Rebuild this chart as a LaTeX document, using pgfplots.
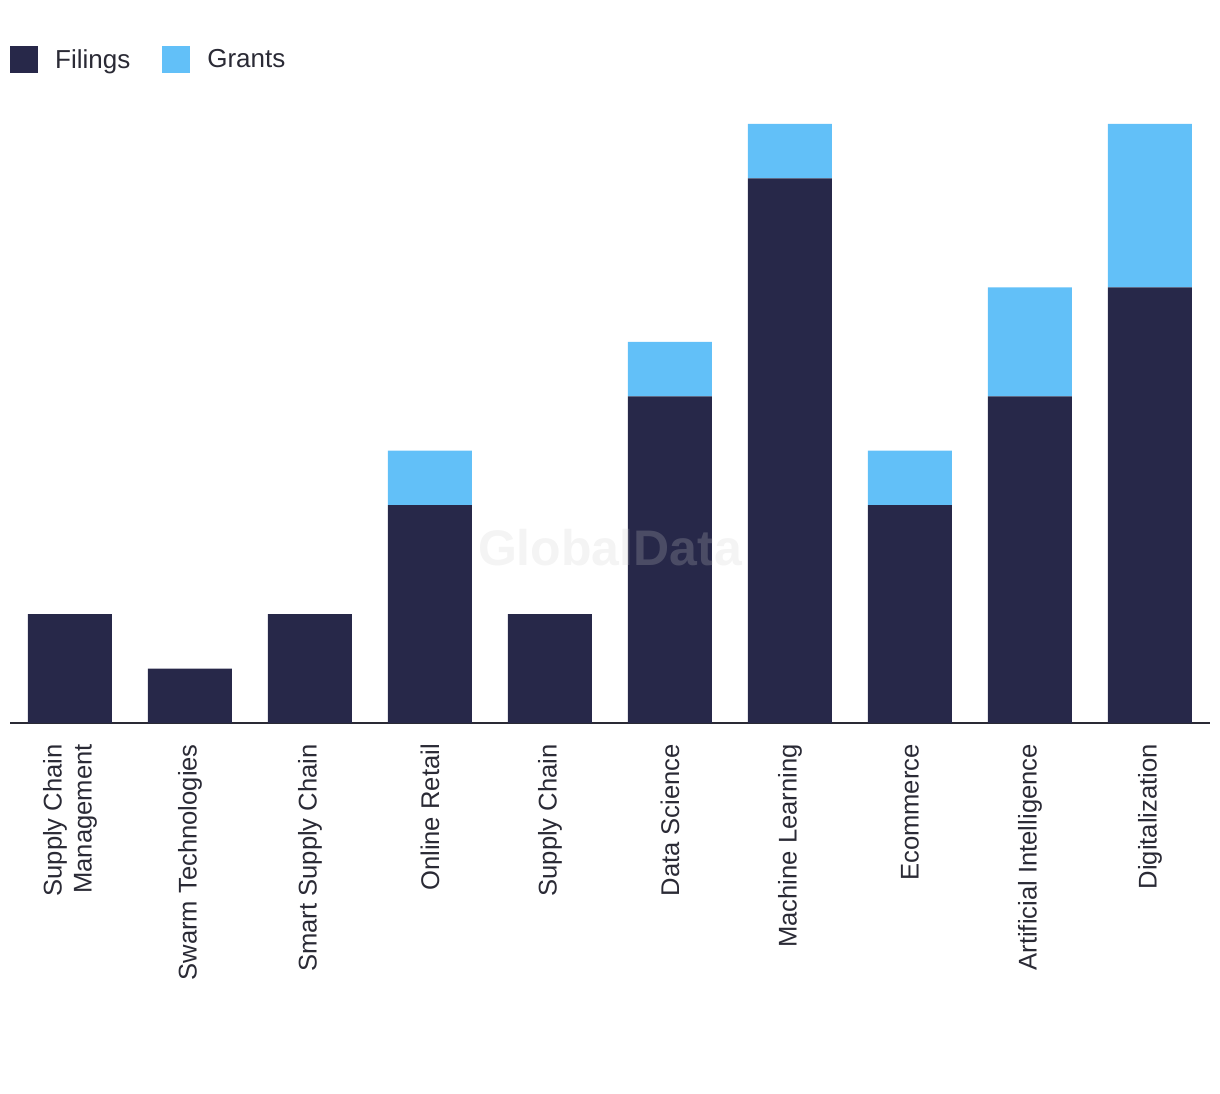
\documentclass[border=0pt]{standalone}
\usepackage{pgfplots}
\pgfplotsset{compat=1.18}
\usepackage{fontspec}
\setmainfont{Liberation Sans}
\definecolor{navy}{HTML}{272849}
\definecolor{sky}{HTML}{62C0F8}
\definecolor{txt}{HTML}{2A2A35}
\definecolor{wm}{HTML}{CCCCCC}
\begin{document}
\begin{tikzpicture}
\useasboundingbox (0,0) rectangle (1220pt,1094pt);
\begin{axis}[
  at={(10pt,371pt)}, anchor=south west,
  scale only axis, width=1200pt, height=599pt,
  xmin=-0.5, xmax=9.5, ymin=0, ymax=11,
  ybar stacked, bar width=84pt,
  axis x line*=bottom, axis y line=none,
  x axis line style={draw=txt, line width=1.6pt},
  major tick length=0pt,
  xtick=data,
  xticklabels={{Supply Chain\\Management},{Swarm Technologies},{Smart Supply Chain},{Online Retail},{Supply Chain},{Data Science},{Machine Learning},{Ecommerce},{Artificial Intelligence},{Digitalization}},
  xticklabel style={rotate=90, anchor=east, align=right, inner sep=0pt, text=txt,
    font=\fontsize{25.6}{30}\selectfont},
  xticklabel shift=21pt,
  legend columns=2,
  legend style={draw=none, fill=none, at={(0,1.1077)}, anchor=west, inner sep=0pt,
    column sep=0pt, nodes={inner sep=0pt, text=txt, font=\fontsize{26}{30}\selectfont},
    /tikz/every even column/.append style={column sep=32pt}},
  legend image code/.code={\fill[#1,draw=none] (0pt,-13.5pt) rectangle (28pt,13.5pt); \path (45pt,0pt);},
  clip=false,
]
\addplot[fill=navy, draw=none] coordinates {(0,2) (1,1) (2,2) (3,4) (4,2) (5,6) (6,10) (7,4) (8,6) (9,8)};
\addlegendentry{Filings}
\addplot[fill=sky, draw=none] coordinates {(0,0) (1,0) (2,0) (3,1) (4,0) (5,1) (6,1) (7,1) (8,2) (9,3)};
\addlegendentry{Grants}
\end{axis}
\node[text=wm, text opacity=0.22, font=\bfseries\fontsize{50}{50}\selectfont] at (610pt,546pt) {GlobalData};
\end{tikzpicture}
\end{document}
